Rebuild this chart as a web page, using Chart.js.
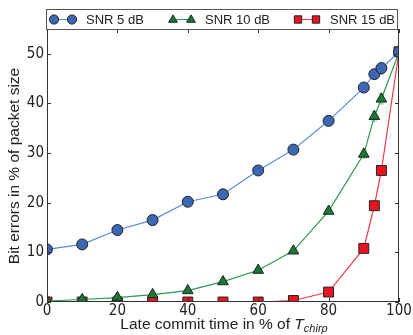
<!DOCTYPE html>
<html>
<head>
<meta charset="utf-8">
<script src="https://cdn.jsdelivr.net/npm/chart.js@4/dist/chart.umd.min.js"></script>
<style>
  html, body { margin: 0; padding: 0; background: #fff; overflow: hidden; }
  canvas { display: block; }
</style>
</head>
<body>
<canvas id="ber" width="413" height="335"></canvas>
<script>
const commitTime = [0, 10, 20, 30, 40, 50, 60, 70, 80, 90, 93, 95, 100];
const snr5 = [10.6, 11.6, 14.5, 16.5, 20.2, 21.7, 26.5, 30.7, 36.5, 43.2, 45.9, 47.1, 50.4];
const snr10 = [0.2, 0.5, 0.9, 1.5, 2.3, 4.1, 6.4, 10.3, 18.3, 29.8, 37.4, 40.9, 50.3];
const snr15 = [0, 0, 0, 0, 0, 0, 0, 0.3, 2.0, 10.8, 19.4, 26.5, 50.4];
const err5 = [0.3, 0.3, 0.4, 1.0, 0.4, 0.7, 0.5, 0.5, 0.6, 0.8, 0.8, 1.2, 0.4];
const err10 = [0, 0, 0, 0, 0, 0.3, 0.3, 0.4, 0.5, 0.8, 1.0, 1.0, 0.4];
const err15 = [0, 0, 0, 0, 0, 0, 0, 0, 0.3, 0.4, 0.8, 0.8, 0.4];
const xTicks = [0, 20, 40, 60, 80, 100];
const yTicks = [0, 10, 20, 30, 40, 50];
const seriesNames = ["SNR 5 dB", "SNR 10 dB", "SNR 15 dB"];

const FONT = "'Liberation Sans', Arial, sans-serif";
const NARROW = "'Liberation Sans Narrow', 'DejaVu Sans Condensed', 'Liberation Sans', sans-serif";

const series = [
  { name: seriesNames[0], values: snr5, errors: err5, style: "circle", fill: "#3b67b3", line: "#5a8ad8", bar: "#9ab8e8", radius: 5.5 },
  { name: seriesNames[1], values: snr10, errors: err10, style: "triangle", fill: "#167a34", line: "#2a9a4c", bar: "#8cc89c", radius: 6.2 },
  { name: seriesNames[2], values: snr15, errors: err15, style: "rect", fill: "#e8141f", line: "#f23a44", bar: "#f39aa0", radius: 7 }
];

const frame = {
  id: "frame",
  afterDraw(chart) {
    const { ctx, chartArea: a, scales } = chart;
    ctx.save();
    ctx.strokeStyle = "#333";
    ctx.lineWidth = 1;
    ctx.strokeRect(a.left + 0.5, a.top + 0.5, a.right - a.left - 1, a.bottom - a.top - 1);
    ctx.beginPath();
    xTicks.forEach(v => {
      const px = Math.round(scales.x.getPixelForValue(v)) + 0.5;
      ctx.moveTo(px, a.bottom); ctx.lineTo(px, a.bottom - 4);
      ctx.moveTo(px, a.top); ctx.lineTo(px, a.top + 4);
    });
    yTicks.forEach(v => {
      const py = Math.round(scales.y.getPixelForValue(v)) + 0.5;
      ctx.moveTo(a.left, py); ctx.lineTo(a.left + 4, py);
      ctx.moveTo(a.right, py); ctx.lineTo(a.right - 4, py);
    });
    ctx.stroke();
    ctx.restore();
  }
};

const errorBars = {
  id: "errorBars",
  beforeDatasetsDraw(chart) {
    const { ctx, chartArea: a, scales } = chart;
    ctx.save();
    ctx.beginPath();
    ctx.rect(a.left, a.top, a.right - a.left, a.bottom - a.top);
    ctx.clip();
    ctx.lineWidth = 1;
    series.forEach(s => {
      ctx.strokeStyle = s.bar;
      ctx.beginPath();
      commitTime.forEach((t, i) => {
        const e = s.errors[i];
        if (!e) return;
        const px = scales.x.getPixelForValue(t);
        const y1 = scales.y.getPixelForValue(s.values[i] + e);
        const y2 = scales.y.getPixelForValue(s.values[i] - e);
        ctx.moveTo(px, y1); ctx.lineTo(px, y2);
        ctx.moveTo(px - 3, y1); ctx.lineTo(px + 3, y1);
        ctx.moveTo(px - 3, y2); ctx.lineTo(px + 3, y2);
      });
      ctx.stroke();
    });
    ctx.restore();
  }
};

function marker(ctx, style, x, y, r, fill) {
  ctx.fillStyle = fill;
  ctx.strokeStyle = "#222";
  ctx.lineWidth = 1;
  ctx.beginPath();
  if (style === "circle") {
    ctx.arc(x, y, r, 0, Math.PI * 2);
  } else if (style === "triangle") {
    ctx.moveTo(x, y - r);
    ctx.lineTo(x + r * 0.95, y + r * 0.6);
    ctx.lineTo(x - r * 0.95, y + r * 0.6);
    ctx.closePath();
  } else {
    ctx.rect(x - r * 0.8, y - r * 0.8, r * 1.6, r * 1.6);
  }
  ctx.fill();
  ctx.stroke();
}

const legendBox = {
  id: "legendBox",
  afterDraw(chart) {
    const { ctx, chartArea: a } = chart;
    const top = 9, bottom = a.top;
    const cy = (top + bottom) / 2 + 0.5;
    ctx.save();
    ctx.strokeStyle = "#555";
    ctx.lineWidth = 1;
    ctx.strokeRect(46.5, top + 0.5, 351, bottom - top);
    const starts = [54, 173, 298];
    ctx.font = "13px " + FONT;
    ctx.textBaseline = "middle";
    series.forEach((s, i) => {
      const x0 = starts[i], x1 = x0 + 18;
      ctx.strokeStyle = s.line;
      ctx.beginPath(); ctx.moveTo(x0, cy); ctx.lineTo(x1, cy); ctx.stroke();
      marker(ctx, s.style, x0, cy, 4.6, s.fill);
      marker(ctx, s.style, x1, cy, 4.6, s.fill);
      ctx.fillStyle = "#222";
      ctx.fillText(s.name, x1 + 14, cy + 0.5);
    });
    ctx.restore();
  }
};

const axisTitles = {
  id: "axisTitles",
  afterDraw(chart) {
    const { ctx, chartArea: a } = chart;
    ctx.save();
    ctx.fillStyle = "#222";
    // y title
    ctx.font = "15.5px " + FONT;
    ctx.textAlign = "center";
    ctx.textBaseline = "middle";
    ctx.translate(15, 166);
    ctx.rotate(-Math.PI / 2);
    ctx.fillText("Bit errors in % of packet size", 0, 0);
    ctx.restore();

    // x title with italic T and subscript
    ctx.save();
    ctx.fillStyle = "#222";
    ctx.textBaseline = "alphabetic";
    const main = "Late commit time in % of ";
    const fMain = "15.5px " + FONT;
    const fT = "italic 15.5px " + FONT;
    const fSub = "italic 11px " + FONT;
    ctx.font = fMain; const w1 = ctx.measureText(main).width;
    ctx.font = fT; const w2 = ctx.measureText("T").width;
    ctx.font = fSub; const w3 = ctx.measureText("chirp").width;
    let x = 224 - (w1 + w2 + w3) / 2;
    const base = 329;
    ctx.font = fMain; ctx.fillText(main, x, base); x += w1;
    ctx.font = fT; ctx.fillText("T", x, base); x += w2;
    ctx.font = fSub; ctx.fillText("chirp", x, base + 3);
    ctx.restore();
  }
};

new Chart(document.getElementById("ber"), {
  type: "line",
  data: {
    datasets: series.map(s => ({
      label: s.name,
      data: commitTime.map((t, i) => ({ x: t, y: s.values[i] })),
      borderColor: s.line,
      borderWidth: 1.2,
      pointStyle: s.style,
      pointRadius: s.radius,
      pointBackgroundColor: s.fill,
      pointBorderColor: "#222",
      pointBorderWidth: 1,
      tension: 0,
      fill: false,
      clip: 0
    }))
  },
  options: {
    responsive: false,
    animation: false,
    events: [],
    layout: { padding: { top: 29, right: 14, left: 0, bottom: 0 } },
    plugins: {
      legend: { display: false },
      tooltip: { enabled: false }
    },
    scales: {
      x: {
        type: "linear",
        min: 0,
        max: 100,
        grid: { display: false, drawTicks: false },
        border: { display: false },
        ticks: { stepSize: 20, color: "#222", padding: 0, font: { family: NARROW, size: 15 }, maxRotation: 0 },
        afterFit(scale) { scale.height = 33; }
      },
      y: {
        min: 0,
        max: 55,
        grid: { display: false, drawTicks: false },
        border: { display: false },
        ticks: { stepSize: 10, includeBounds: false, color: "#222", padding: 3, font: { family: NARROW, size: 15 } },
        afterFit(scale) { scale.width = 47; }
      }
    }
  },
  plugins: [errorBars, frame, legendBox, axisTitles]
});
</script>
</body>
</html>
